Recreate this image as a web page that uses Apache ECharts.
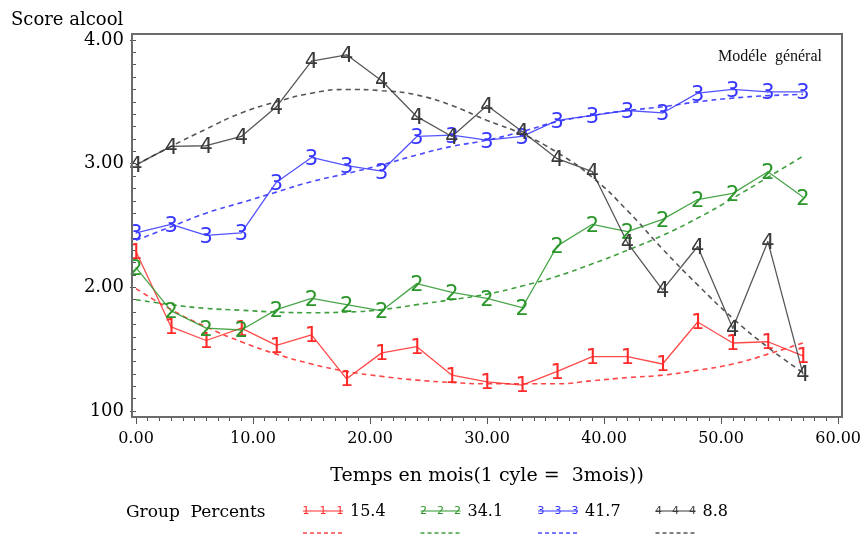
<!DOCTYPE html>
<html><head><meta charset="utf-8">
<script src="https://cdn.jsdelivr.net/npm/echarts@6/dist/echarts.min.js"></script>
<style>html,body{margin:0;padding:0;background:#fff}#c{width:864px;height:535px}</style>
</head><body><div id="c"></div>
<script>
// ---- data ----
const months = [0,3,6,9,12,15,18,21,24,27,30,33,36,39,42,45,48,51,54,57];
const group1 = [2.29,1.68,1.57,1.67,1.53,1.615,1.26,1.47,1.52,1.29,1.235,1.21,1.32,1.44,1.44,1.38,1.72,1.55,1.56,1.445];
const group2 = [2.16,1.81,1.67,1.655,1.82,1.91,1.86,1.81,2.03,1.96,1.91,1.835,2.335,2.51,2.45,2.55,2.71,2.76,2.935,2.73];
const group3 = [2.44,2.51,2.42,2.44,2.85,3.05,2.985,2.94,3.22,3.23,3.19,3.22,3.35,3.39,3.43,3.41,3.57,3.60,3.58,3.58];
const group4 = [2.99,3.14,3.145,3.22,3.46,3.83,3.88,3.67,3.38,3.22,3.47,3.26,3.04,2.935,2.36,1.98,2.33,1.67,2.37,1.30];
const fit1 = [1.99,1.82,1.68,1.56,1.46,1.38,1.32,1.28,1.25,1.23,1.22,1.22,1.22,1.245,1.27,1.29,1.33,1.38,1.46,1.55];
const fit2 = [1.90,1.86,1.83,1.815,1.80,1.795,1.80,1.82,1.86,1.90,1.945,2.01,2.09,2.19,2.30,2.42,2.56,2.72,2.89,3.06];
const fit3 = [2.38,2.49,2.60,2.685,2.77,2.855,2.92,2.99,3.07,3.14,3.19,3.26,3.34,3.39,3.43,3.46,3.50,3.53,3.55,3.56];
const fit4 = [2.99,3.14,3.28,3.41,3.50,3.57,3.60,3.59,3.555,3.47,3.35,3.24,3.09,2.89,2.62,2.31,2.02,1.75,1.515,1.31];
const groupSymbols = ['1','2','3','4'];
const groupPercents = ['15.4','34.1','41.7','8.8'];
const yTickLabels = {1:'100', 2:'2.00', 3:'3.00', 4:'4.00'};

// ---- styling ----
const groups = [group1, group2, group3, group4];
const fits = [fit1, fit2, fit3, fit4];
const colors = ['#ff2a2a','#2a962a','#3535ff','#3a3a3a'];
const dashColors = ['#ff4545','#3fa03f','#4a4aff','#555555'];
const SERIF = 'DejaVu Serif';

const series = [];
fits.forEach((f, i) => {
  series.push({
    type: 'line', smooth: true, symbol: 'none', silent: true,
    data: months.map((m, j) => [m, f[j]]),
    lineStyle: { color: dashColors[i], width: 1.6, type: [5, 4] },
    z: 2
  });
});
groups.forEach((g, i) => {
  series.push({
    type: 'line', symbol: 'circle', symbolSize: 1, silent: true,
    data: months.map((m, j) => [m, g[j]]),
    itemStyle: { color: colors[i] },
    lineStyle: { color: colors[i], width: 1.3, opacity: 0.85 },
    label: {
      show: true, position: 'inside', formatter: groupSymbols[i],
      color: colors[i], fontFamily: 'DejaVu Sans', fontSize: 21, fontWeight: 'normal', offset: [0, 2]
    },
    z: 3
  });
});

const graphic = [
  { type: 'rect', shape: { x: 132, y: 34, width: 710, height: 383 },
    style: { fill: 'none', stroke: '#6b6b6b', lineWidth: 2 }, z: 10 },
  { type: 'text', x: 770, y: 57, style: { text: 'Modéle  général', font: '16px "Liberation Serif"',
    fill: '#111', textAlign: 'center', textVerticalAlign: 'middle' } },
  { type: 'text', x: 126, y: 513, style: { text: 'Group  Percents', font: '17px "DejaVu Serif"',
    fill: '#000', textAlign: 'left', textVerticalAlign: 'middle' } }
];
groupPercents.forEach((p, i) => {
  const x0 = 303 + i * 117.5;
  graphic.push({ type: 'line', shape: { x1: x0, y1: 511, x2: x0 + 40, y2: 511 },
    style: { stroke: colors[i], lineWidth: 1.2 } });
  [3, 20, 37].forEach(dx => graphic.push({ type: 'text', x: x0 + dx, y: 511,
    style: { text: groupSymbols[i], font: '11px "DejaVu Sans"', fill: colors[i], textAlign: 'center', textVerticalAlign: 'middle' } }));
  graphic.push({ type: 'text', x: x0 + 47, y: 512, style: { text: p, font: '16px "DejaVu Serif"',
    fill: '#000', textAlign: 'left', textVerticalAlign: 'middle' } });
  graphic.push({ type: 'line', shape: { x1: x0, y1: 533, x2: x0 + 40, y2: 533 },
    style: { stroke: dashColors[i], lineWidth: 1.4, lineDash: [4, 3] } });
});

const chart = echarts.init(document.getElementById('c'), null, { renderer: 'canvas' });
chart.setOption({
  animation: false,
  backgroundColor: '#fff',
  title: { text: 'Score alcool', left: 6, top: 6,
    textStyle: { fontFamily: SERIF, fontSize: 18, fontWeight: 'normal', color: '#000' } },
  grid: { left: 136, right: 25, top: 40, bottom: 124 },
  xAxis: {
    type: 'value', min: 0, max: 60, interval: 10, offset: 6,
    axisLine: { show: false },
    axisTick: { show: true, length: 7, lineStyle: { color: '#555', width: 1 } },
    minorTick: { show: true, splitNumber: 10, length: 4, lineStyle: { color: '#555', width: 1 } },
    splitLine: { show: false },
    axisLabel: { formatter: v => v.toFixed(2), fontFamily: SERIF, fontSize: 16, color: '#000', margin: 14 },
    name: 'Temps en mois(1 cyle =  3mois))', nameLocation: 'middle', nameGap: 50,
    nameTextStyle: { fontFamily: SERIF, fontSize: 19, color: '#000' }
  },
  yAxis: {
    type: 'value', min: 1, max: 4, interval: 1, offset: 4,
    axisLine: { show: false },
    axisTick: { show: true, length: 6, lineStyle: { color: '#555', width: 1 } },
    minorTick: { show: true, splitNumber: 10, length: 3, lineStyle: { color: '#555', width: 1 } },
    splitLine: { show: false },
    axisLabel: { formatter: v => yTickLabels[v] || '', fontFamily: SERIF, fontSize: 18, color: '#000', margin: 8 }
  },
  series: series,
  graphic: graphic
});
</script></body></html>
